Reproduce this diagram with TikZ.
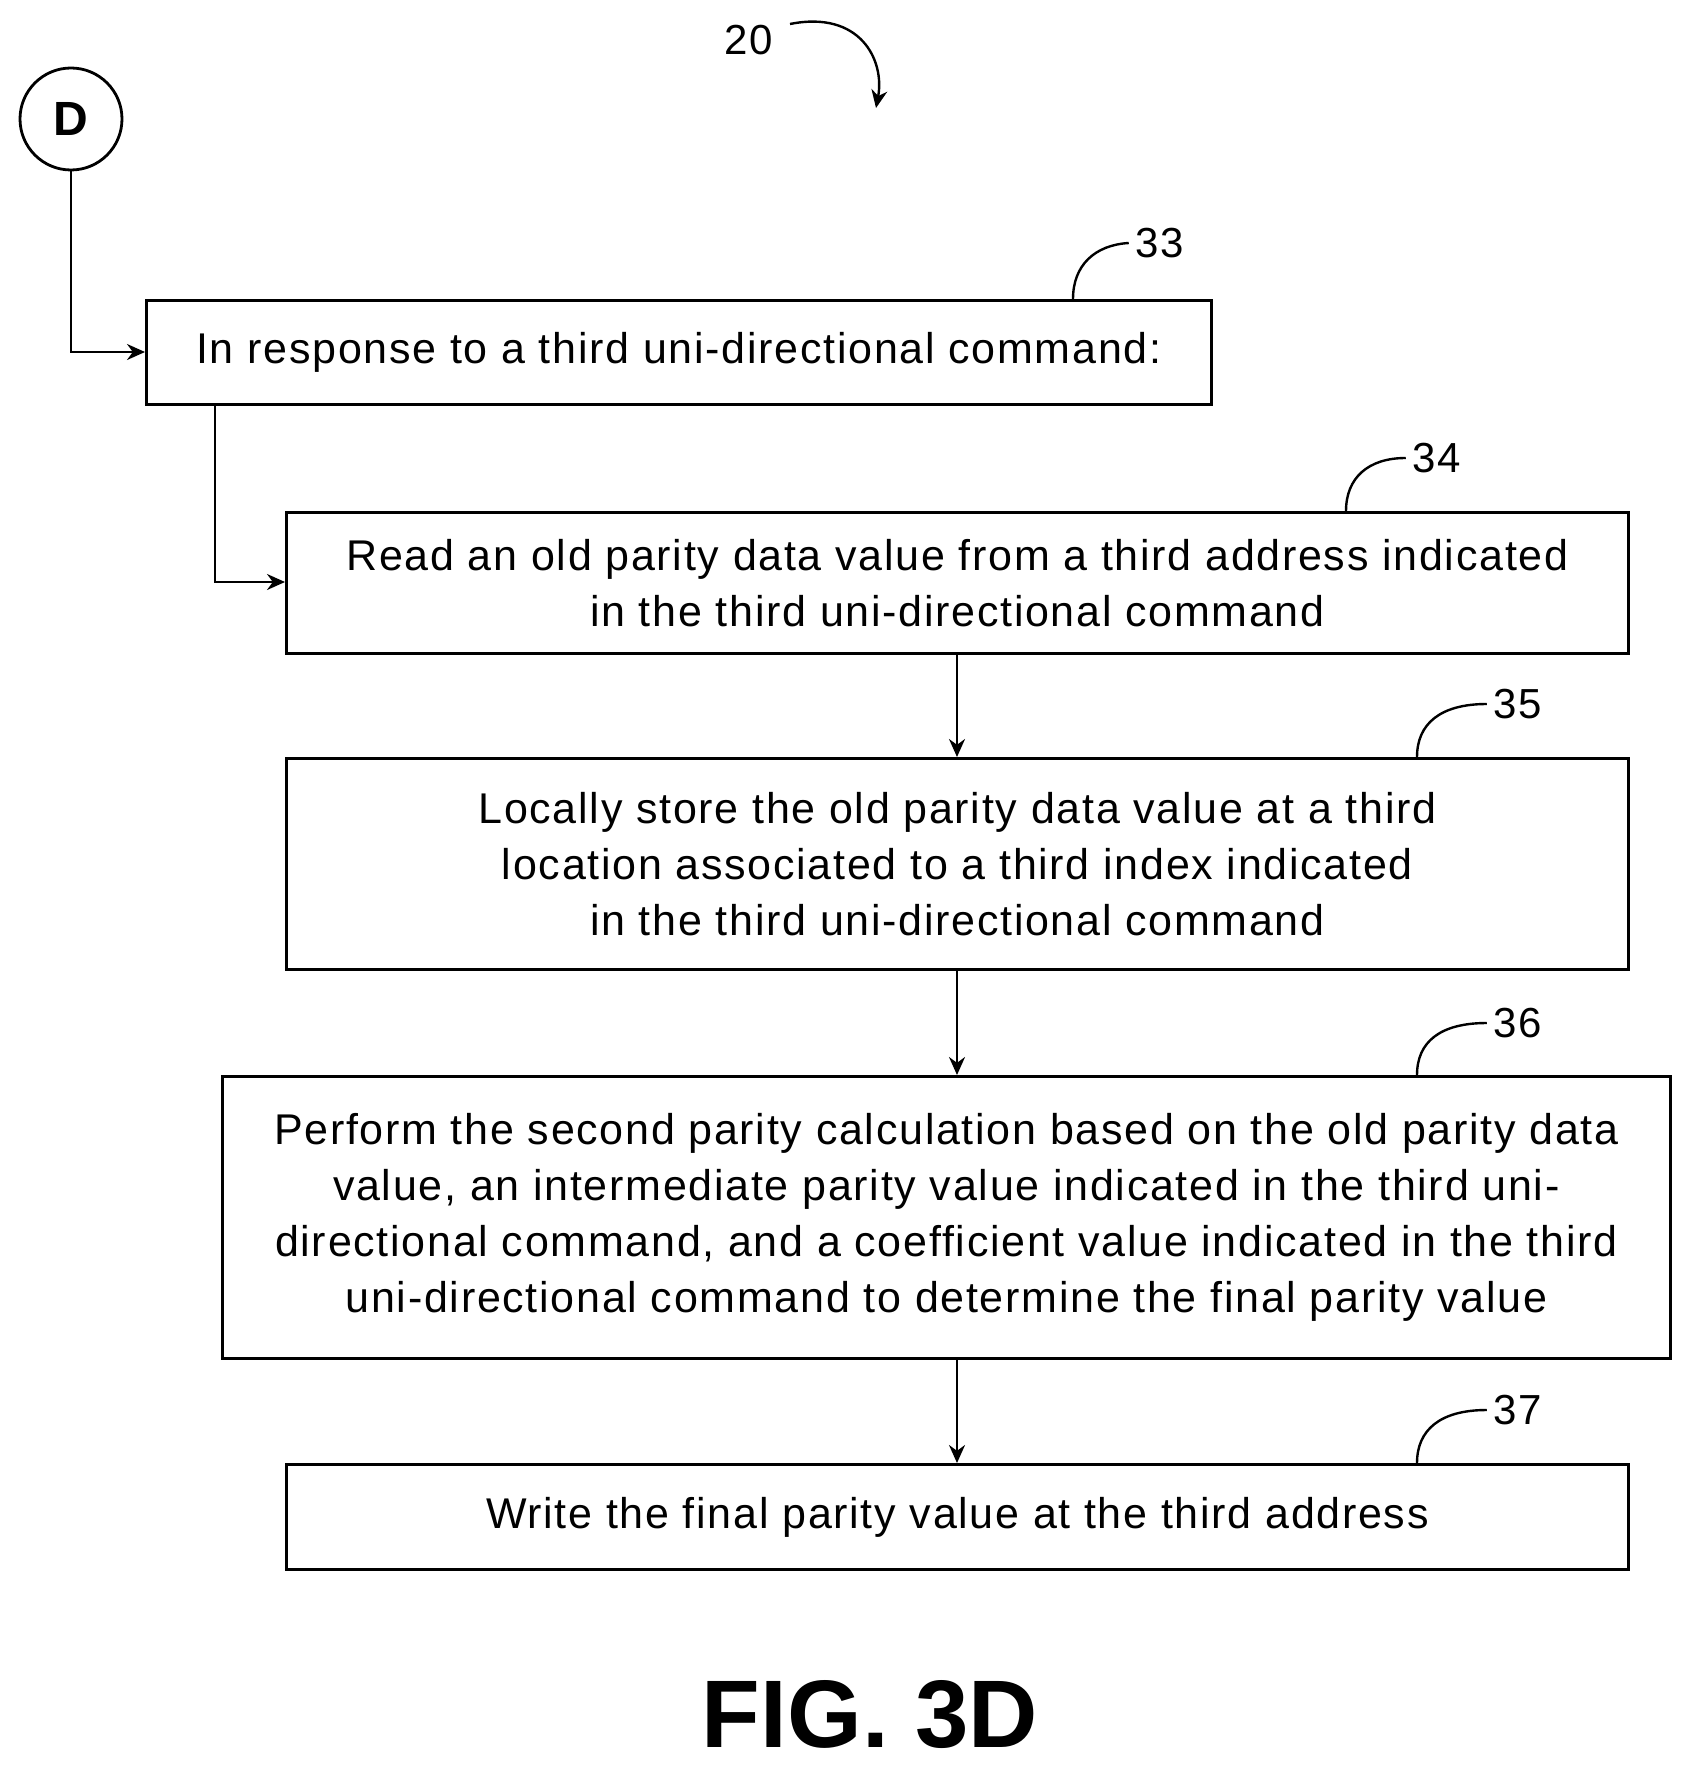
\documentclass[tikz,border=0pt]{standalone}
\usepackage{fontspec}
\setmainfont{Liberation Sans}
\newfontfamily\boxfont[LetterSpace=4]{Liberation Sans}
\usetikzlibrary{arrows.meta}
\begin{document}
\begin{tikzpicture}[x=0.5pt,y=-0.5pt,
  box/.style={draw,line width=1.4pt,inner sep=0pt,anchor=north west,align=center},
  txt/.style={align=center,font=\boxfont\fontsize{21.5}{28}\selectfont},
  arr/.style={line width=1.2pt,-{Stealth[length=9pt,width=8pt]}},
  lead/.style={line width=1.2pt},
  num/.style={font=\boxfont\fontsize{21}{24}\selectfont}]
\useasboundingbox (0,0) rectangle (1691,1771);
\node[circle,draw,line width=1.4pt,minimum size=51pt,inner sep=0pt,font=\bfseries\fontsize{24}{24}\selectfont] (D) at (71,119) {D};
\node[box,minimum width=532.5pt,minimum height=52pt] (b33) at (145,299) {};
\node[txt] (t33) at (b33.center) {In response to a third uni-directional command:};
\node[box,minimum width=671pt,minimum height=70.5pt] (b34) at (285,511) {};
\node[txt] (t34) at (b34.center) {Read an old parity data value from a third address indicated\\in the third uni-directional command};
\node[box,minimum width=671pt,minimum height=105.5pt] (b35) at (285,757) {};
\node[txt] (t35) at (b35.center) {Locally store the old parity data value at a third\\location associated to a third index indicated\\in the third uni-directional command};
\node[box,minimum width=724pt,minimum height=141pt] (b36) at (221,1075) {};
\node[txt] (t36) at (b36.center) {Perform the second parity calculation based on the old parity data\\value, an intermediate parity value indicated in the third uni-\\directional command, and a coefficient value indicated in the third\\uni-directional command to determine the final parity value};
\node[box,minimum width=671pt,minimum height=52.5pt] (b37) at (285,1463) {};
\node[txt] (t37) at (b37.center) {Write the final parity value at the third address};
% connectors
\coordinate (c1) at (71,352);
\draw[arr] (D.south) -- (c1) -- (b33.west|-c1);
\coordinate (c2) at (215,582);
\draw[arr] (b33.south-|c2) -- (c2) -- (b34.west|-c2);
\draw[arr] (b34.south-|957,0) -- (b35.north-|957,0);
\draw[arr] (b35.south-|957,0) -- (b36.north-|957,0);
\draw[arr] (b36.south-|957,0) -- (b37.north-|957,0);
% labels
\node[num] (l20) at (749,40) {20};
\coordinate (a20) at (876,108);
\draw[arr] (790,24) .. controls (860,10) and (885,60) .. (a20);
\node[num] (l33) at (1160,243) {33};
\draw[lead] (1073,299) .. controls (1073,265) and (1095,245) .. (l33.west);
\node[num] (l34) at (1437,458) {34};
\draw[lead] (1346,511) .. controls (1346,478) and (1368,458) .. (l34.west);
\node[num] (l35) at (1518,704) {35};
\draw[lead] (1417,757) .. controls (1417,724) and (1440,704) .. (l35.west);
\node[num] (l36) at (1518,1023) {36};
\draw[lead] (1417,1075) .. controls (1417,1042) and (1440,1023) .. (l36.west);
\node[num] (l37) at (1518,1410) {37};
\draw[lead] (1417,1463) .. controls (1417,1430) and (1440,1410) .. (l37.west);
\node[font=\bfseries\fontsize{48}{48}\selectfont] (fig) at (870,1715) {FIG. 3D};
\end{tikzpicture}
\end{document}
